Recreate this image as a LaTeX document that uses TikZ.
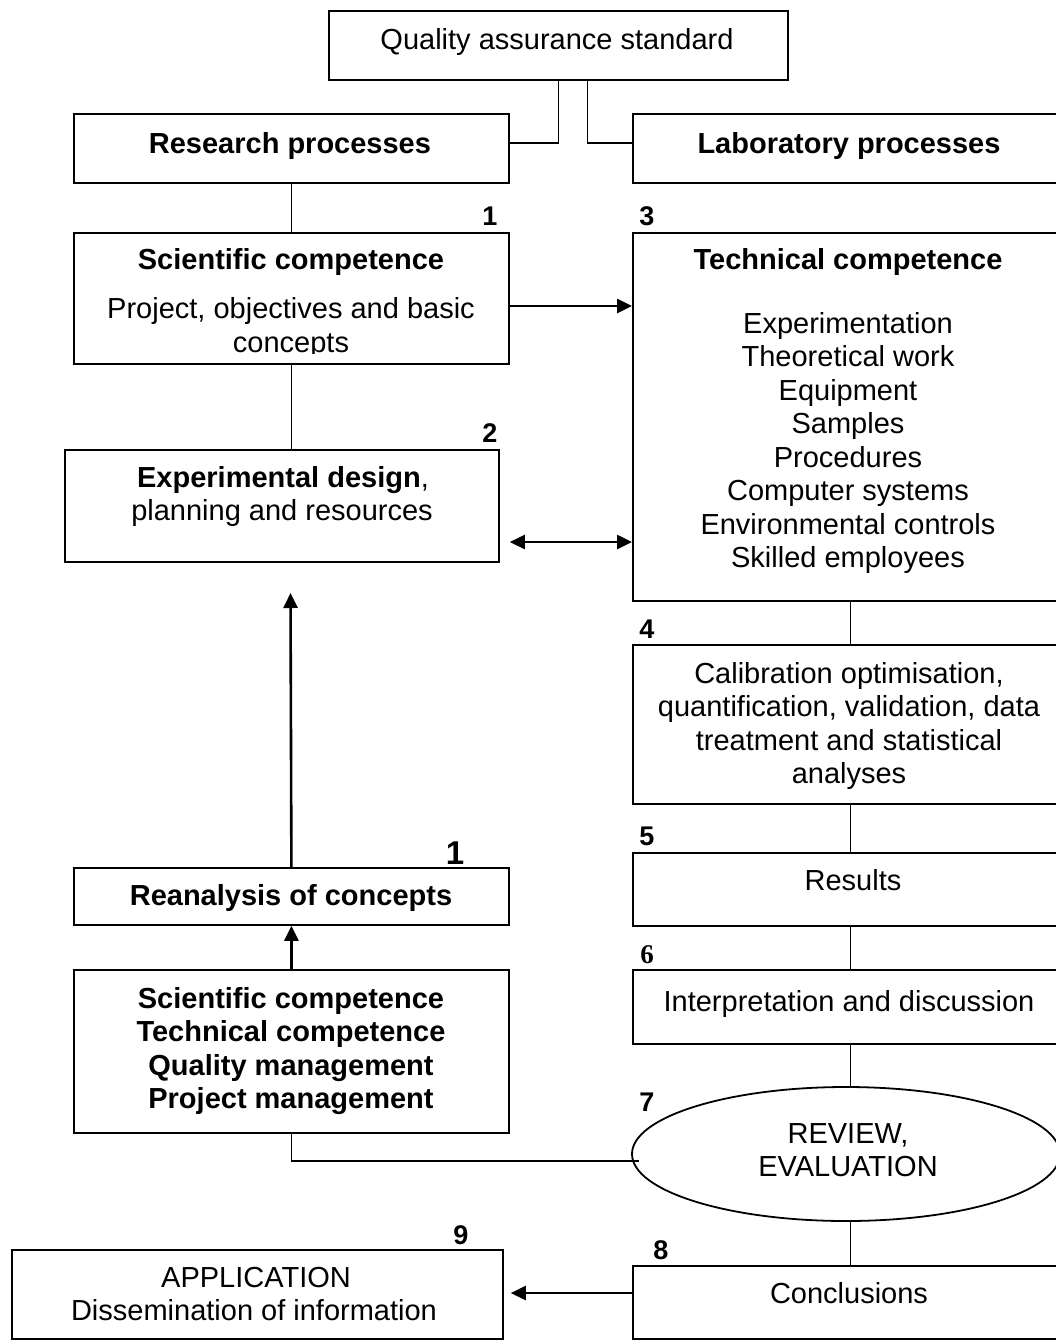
\documentclass[tikz,border=0pt]{standalone}
\usepackage{fontspec}
\setmainfont{Liberation Sans}
\newfontfamily\numserif{Liberation Serif}
\usetikzlibrary{arrows.meta,shapes.geometric}
\begin{document}
\begin{tikzpicture}[x=1pt,y=-1pt,
  box/.style={draw, line width=1.8pt, inner sep=0pt, anchor=north west},
  txt/.style={anchor=base, inner sep=0pt, font=\fontsize{29}{33.5}\selectfont},
  btxt/.style={anchor=base, inner sep=0pt, font=\fontsize{29}{33.5}\selectfont\bfseries},
  num/.style={anchor=base, inner sep=0pt, font=\fontsize{27}{27}\selectfont\bfseries},
  conn/.style={line width=1.8pt},
  tip/.tip={Triangle[length=15pt,width=14pt]},
  arr/.style={line width=2.6pt, -tip},
  arrb/.style={line width=2.6pt, tip-tip}
]
\clip (0,0) rectangle (1056,1342);
\fill[white] (0,0) rectangle (1056,1342);

% boxes
\node[box, minimum width=459pt, minimum height=69pt] (qa) at (328,10) {};
\node[box, minimum width=435pt, minimum height=69pt] (res) at (73,113) {};
\node[box, minimum width=435pt, minimum height=69pt] (lab) at (632,113) {};
\node[box, minimum width=435pt, minimum height=131pt] (sci) at (73,232) {};
\node[box, minimum width=434pt, minimum height=112pt] (exp) at (64,449) {};
\node[box, minimum width=435pt, minimum height=368pt] (tech) at (632,232) {};
\node[box, minimum width=435pt, minimum height=159pt] (calib) at (632,644) {};
\node[box, minimum width=435pt, minimum height=73pt] (resl) at (632,852) {};
\node[box, minimum width=435pt, minimum height=74pt] (interp) at (632,969) {};
\node[draw, ellipse, line width=1.8pt, inner sep=0pt, minimum width=428pt, minimum height=134pt] (ell) at (846,1154) {};
\node[box, minimum width=435pt, minimum height=57pt] (reana) at (73,867) {};
\node[box, minimum width=435pt, minimum height=163pt] (comp) at (73,969) {};
\node[box, minimum width=491pt, minimum height=89pt] (app) at (11,1249) {};
\node[box, minimum width=435pt, minimum height=73pt] (concl) at (632,1265) {};

% texts
\node[txt] (tqa) at (557,49.5) {Quality assurance standard};
\node[btxt] (tres) at (290,153) {Research processes};
\node[btxt] (tlab) at (849,153) {Laboratory processes};
\node[btxt] (tsci) at (291,269) {Scientific competence};
\begin{scope}
\clip (73,232) rectangle (508,353);
\node[txt] (tsci1) at (291,318.5) {Project, objectives and basic};
\node[txt] (tsci2) at (291,352) {concepts};
\end{scope}
\node[btxt] (ttech) at (848,269) {Technical competence};
\foreach \t [count=\i] in {Experimentation, Theoretical work, Equipment, Samples, Procedures, Computer systems, Environmental controls, Skilled employees}
  \node[txt] (tl\i) at (848,{333+33.5*(\i-1)}) {\t};
\node[txt] (texp1) at (283,487) {\textbf{Experimental design},};
\node[txt] (texp2) at (282,520.5) {planning and resources};
\node[txt] (tcal1) at (849,683) {Calibration optimisation,};
\node[txt] (tcal2) at (849,716.5) {quantification, validation, data};
\node[txt] (tcal3) at (849,750) {treatment and statistical};
\node[txt] (tcal4) at (849,783.5) {analyses};
\node[txt] (tresl) at (853,890) {Results};
\node[txt] (tint) at (849,1011) {Interpretation and discussion};
\node[txt] (tell1) at (848,1143.5) {REVIEW,};
\node[txt] (tell2) at (848,1176) {EVALUATION};
\node[btxt] (treana) at (291,905) {Reanalysis of concepts};
\node[btxt] (tc1) at (291,1008) {Scientific competence};
\node[btxt] (tc2) at (291,1041.5) {Technical competence};
\node[btxt] (tc3) at (291,1075) {Quality management};
\node[btxt] (tc4) at (291,1108.5) {Project management};
\node[txt] (tapp1) at (256,1287) {APPLICATION};
\node[txt] (tapp2) at (254,1320.5) {Dissemination of information};
\node[txt] (tconcl) at (849,1303) {Conclusions};

% numbers
\node[num] (n1) at (490,225) {1};
\node[num] (n3) at (647,225) {3};
\node[num] (n2) at (490,442) {2};
\node[num] (n4) at (647,638) {4};
\node[num] (n5) at (647,845) {5};
\node[num, font=\fontsize{27}{27}\selectfont\numserif\bfseries] (n6) at (647,963) {6};
\node[num] (n7) at (647,1111) {7};
\node[num] (n8) at (661,1259) {8};
\node[num] (n9) at (461,1244) {9};
\node[anchor=base, inner sep=0pt, font=\fontsize{33}{33}\selectfont\bfseries] (n1b) at (455,864) {1};

% connectors
\draw[conn] (qa.south) |- (res.east |- 0,143);
\draw[conn] ([xshift=29pt]qa.south) |- (lab.west |- 0,143);
\draw[conn] (res.south) -- (sci.north);
\draw[arr] (sci.east |- 0,306) -- (tech.west |- 0,306);
\draw[conn] (sci.south) -- (sci.south |- exp.north);
\draw[arrb, shorten <=10pt] (exp.east |- 0,542) -- (tech.west |- 0,542);
\draw[conn] (tech.south) -- (calib.north);
\draw[conn] (calib.south) -- (resl.north);
\draw[conn] (resl.south) -- (interp.north);
\draw[conn] (interp.south) -- (interp.south |- ell.north);
\draw[conn] (concl.north |- ell.south) -- (concl.north);
\draw[arr, shorten >=7pt] (concl.west |- 0,1293) -- (app.east |- 0,1293);
\draw[conn, shorten >=-8pt] (comp.south) |- (ell.west |- 0,1161);
\draw[arr] (comp.north) -- (reana.south);
\coordinate (up) at (290.5,593);
\draw[arr] (reana.north) -- (up);
\end{tikzpicture}
\end{document}
